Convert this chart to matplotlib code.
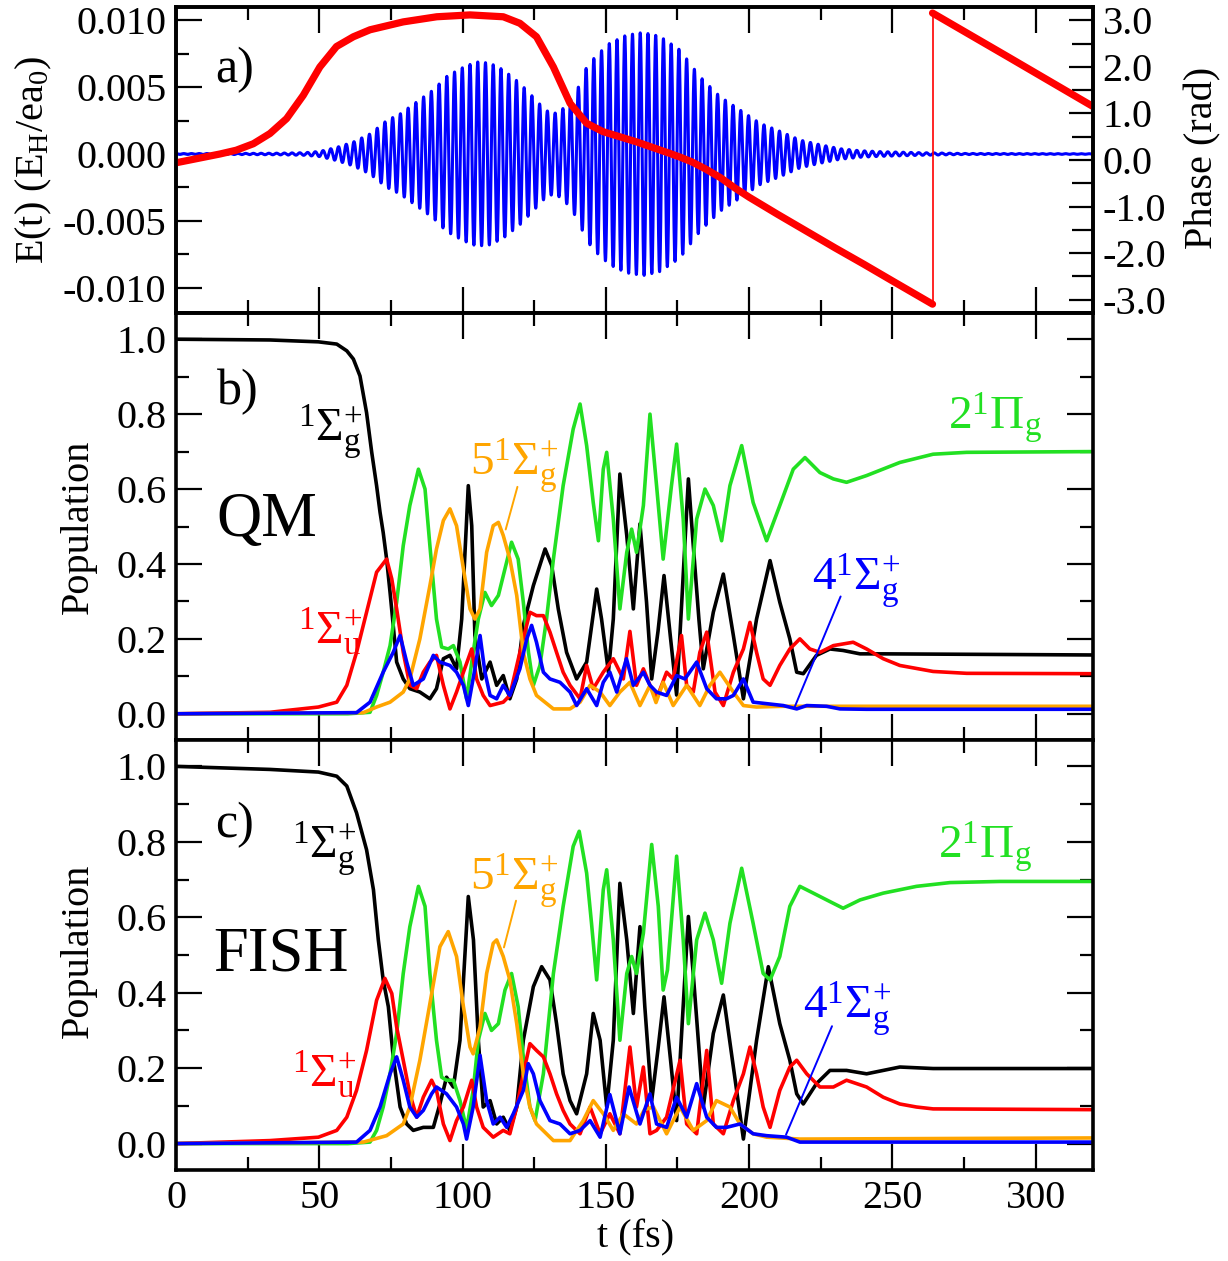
import numpy as np
import matplotlib
matplotlib.use('Agg')
import matplotlib.pyplot as plt
from matplotlib.ticker import MultipleLocator, FixedLocator, FormatStrFormatter

plt.rcParams['font.family'] = ['Liberation Serif', 'DejaVu Serif']
plt.rcParams['mathtext.fontset'] = 'custom'
plt.rcParams['mathtext.rm'] = 'Liberation Serif'
plt.rcParams['mathtext.it'] = 'Liberation Serif:italic'
plt.rcParams['mathtext.bf'] = 'Liberation Serif:bold'
plt.rcParams['axes.unicode_minus'] = False

# ---------------- panel a: field envelope ----------------
carrier_period_fs = 2.7
env_t = [0, 20, 35, 45, 50.2, 56.1, 61.9, 67.7, 73.5, 78.2, 84.0, 89.8, 94.4, 100.3, 104.9,
         109.6, 114.2, 120.0, 125.8, 128.8, 131.7, 134.6, 137.5, 140.4, 143.3, 146.8, 151.4,
         157.2, 163.1, 168.9, 175.8, 182.8, 189.8, 196.8, 203.8, 210.8, 217.7, 224.7, 231.7,
         238.7, 245.7, 259.6, 275, 320]
env_a = [0.00003, 0.00004, 0.00006, 0.0001, 0.0002, 0.0005, 0.0009, 0.0015, 0.0025, 0.0030,
         0.0039, 0.0048, 0.0058, 0.0065, 0.0069, 0.0068, 0.0063, 0.0053, 0.0040, 0.0033,
         0.0030, 0.0033, 0.0040, 0.0050, 0.0065, 0.0074, 0.0083, 0.0089, 0.0091, 0.0088,
         0.0078, 0.0058, 0.0043, 0.0033, 0.0023, 0.0017, 0.00105, 0.0007, 0.0004, 0.00025,
         0.00018, 0.0001, 0.00004, 0.00002]

# phase (rad), two branches around the 2*pi wrap
phase_t1 = [0, 15.4, 21.0, 27.0, 32.8, 38.6, 44.4, 50.2, 56.0, 61.9, 67.7, 79.3, 91.0, 102.6,
            114.2, 120.0, 125.8, 131.7, 137.5, 143.3, 149.0, 160.7, 172.4, 176.0, 180.0,
            185.0, 190.0, 195.0, 200.0, 210.0, 220.0, 230.0, 240.0, 250.0, 264.0]
phase_v1 = [-0.06, 0.13, 0.21, 0.35, 0.57, 0.89, 1.39, 2.00, 2.44, 2.65, 2.80, 2.97, 3.08,
            3.12, 3.08, 2.94, 2.65, 2.00, 1.22, 0.79, 0.61, 0.39, 0.14, 0.06, -0.04,
            -0.20, -0.38, -0.60, -0.80, -1.17, -1.53, -1.89, -2.24, -2.60, -3.10]
phase_t2 = [264.0, 290.0, 320.0]
phase_v2 = [3.16, 2.23, 1.15]

# ---------------- panel b: QM populations (t [fs], population) ----------------
qm_g1 = [(0, 1.0), (32.8, 0.998), (49.7, 0.993), (56.1, 0.987), (59.6, 0.969), (61.9, 0.947),
         (64.2, 0.902), (66.5, 0.804), (68.3, 0.698), (70.0, 0.609), (71.2, 0.538), (72.3, 0.484),
         (73.5, 0.413), (74.7, 0.324), (75.8, 0.236), (77.0, 0.138), (79.3, 0.093), (81.6, 0.067),
         (85.1, 0.058), (88.6, 0.04), (90.9, 0.067), (93.3, 0.147), (95.6, 0.156), (97.9, 0.12),
         (99.7, 0.253), (102.0, 0.609), (103.2, 0.502), (104.3, 0.209), (106.7, 0.093),
         (109.6, 0.138), (111.9, 0.076), (114.2, 0.102), (116.5, 0.04), (118.9, 0.093),
         (121.2, 0.236), (124.7, 0.342), (128.8, 0.44), (131.1, 0.396), (133.4, 0.28),
         (136.3, 0.164), (139.8, 0.093), (143.3, 0.138), (146.8, 0.333), (148.5, 0.253),
         (150.9, 0.111), (152.6, 0.253), (154.9, 0.64), (157.3, 0.476), (159.6, 0.28),
         (161.9, 0.507), (164.2, 0.298), (166.0, 0.093), (168.2, 0.22), (170.3, 0.369),
         (172.6, 0.2), (174.7, 0.05), (176.5, 0.3), (178.8, 0.627), (180.5, 0.45), (182.5, 0.25),
         (184.0, 0.12), (187.5, 0.271), (191.0, 0.373), (194.5, 0.209), (198.0, 0.04),
         (202.6, 0.253), (207.3, 0.409), (210.7, 0.298), (214.2, 0.2), (216.6, 0.111),
         (218.9, 0.107), (223.5, 0.156), (228.2, 0.173), (232.8, 0.169), (238.7, 0.16),
         (246.8, 0.16), (320, 0.157)]
qm_pi = [(0, 0.0), (60, 0.0), (67.7, 0.004), (70.0, 0.049), (72.3, 0.111), (74.7, 0.182),
         (77.0, 0.298), (79.3, 0.449), (81.6, 0.556), (84.6, 0.653), (86.9, 0.6), (88.6, 0.449),
         (90.9, 0.253), (92.7, 0.178), (95.0, 0.173), (96.8, 0.182), (99.1, 0.138), (101.4, 0.04),
         (103.7, 0.164), (105.5, 0.253), (107.8, 0.324), (110.1, 0.289), (112.5, 0.316),
         (114.8, 0.387), (117.1, 0.458), (119.4, 0.413), (121.2, 0.298), (123.0, 0.164),
         (124.7, 0.076), (127.0, 0.129), (129.3, 0.253), (131.7, 0.413), (135.1, 0.609),
         (138.6, 0.76), (141.0, 0.827), (143.3, 0.716), (145.6, 0.564), (147.4, 0.462),
         (149.1, 0.653), (150.3, 0.698), (152.6, 0.52), (154.9, 0.28), (157.3, 0.431),
         (159.0, 0.493), (160.7, 0.431), (163.1, 0.556), (165.4, 0.8), (167.7, 0.609),
         (170.0, 0.413), (172.9, 0.609), (174.7, 0.72), (177.0, 0.52), (178.8, 0.253),
         (181.7, 0.52), (184.6, 0.6), (187.5, 0.556), (190.4, 0.462), (193.3, 0.609),
         (197.4, 0.716), (201.4, 0.564), (206.1, 0.462), (210.7, 0.556), (215.4, 0.653),
         (219.5, 0.684), (224.7, 0.644), (229.4, 0.627), (234.0, 0.618), (241.0, 0.636),
         (252.6, 0.671), (264.2, 0.693), (275.9, 0.698), (320, 0.7)]
qm_u1 = [(0, 0.0), (32.8, 0.004), (49.7, 0.018), (56.1, 0.031), (59.6, 0.076), (63.0, 0.164),
         (66.5, 0.271), (70.0, 0.378), (73.5, 0.413), (75.3, 0.36), (77.0, 0.28), (79.3, 0.164),
         (81.6, 0.076), (84.0, 0.067), (86.3, 0.111), (88.6, 0.138), (90.9, 0.156), (93.3, 0.076),
         (95.6, 0.013), (97.9, 0.058), (100.3, 0.111), (103.2, 0.173), (104.9, 0.093),
         (107.2, 0.049), (109.6, 0.022), (114.2, 0.031), (116.5, 0.049), (120.0, 0.164),
         (123.5, 0.271), (125.8, 0.262), (128.2, 0.262), (130.5, 0.218), (132.8, 0.164),
         (135.1, 0.111), (137.5, 0.076), (141.0, 0.04), (143.3, 0.129), (145.6, 0.067),
         (149.1, 0.111), (152.6, 0.147), (156.1, 0.093), (158.4, 0.22), (160.7, 0.076),
         (163.1, 0.12), (165.4, 0.076), (167.7, 0.04), (171.2, 0.111), (173.5, 0.093),
         (176.4, 0.209), (178.2, 0.076), (180.5, 0.058), (182.8, 0.164), (185.2, 0.218),
         (188.1, 0.058), (191.0, 0.022), (194.5, 0.111), (198.0, 0.173), (200.3, 0.244),
         (202.6, 0.164), (204.9, 0.093), (207.3, 0.076), (210.7, 0.129), (214.2, 0.173),
         (217.7, 0.2), (221.2, 0.173), (224.7, 0.164), (229.4, 0.182), (236.3, 0.191),
         (241.0, 0.173), (246.8, 0.147), (252.6, 0.129), (264.2, 0.113), (275.9, 0.108),
         (320, 0.107)]
qm_g5 = [(0, 0.0), (65.4, 0.003), (70.0, 0.018), (74.7, 0.031), (79.3, 0.058), (81.6, 0.093),
         (85.1, 0.2), (88.6, 0.342), (90.9, 0.44), (93.3, 0.516), (95.6, 0.547), (97.9, 0.502),
         (100.3, 0.387), (102.6, 0.28), (104.3, 0.253), (106.1, 0.28), (108.4, 0.431),
         (110.7, 0.502), (112.5, 0.511), (114.2, 0.476), (116.5, 0.413), (118.9, 0.316),
         (121.2, 0.164), (123.5, 0.093), (125.8, 0.049), (131.7, 0.013), (137.5, 0.013),
         (141.0, 0.031), (144.5, 0.076), (148.0, 0.058), (151.4, 0.022), (154.9, 0.058),
         (158.4, 0.084), (161.9, 0.022), (165.4, 0.076), (167.5, 0.03), (170.0, 0.084),
         (173.5, 0.022), (178.2, 0.076), (182.8, 0.022), (186.3, 0.076), (189.8, 0.111),
         (194.5, 0.058), (198.0, 0.022), (202.6, 0.018), (211.9, 0.02), (320, 0.02)]
qm_g4 = [(0, 0.0), (63.0, 0.003), (67.7, 0.031), (72.3, 0.111), (75.8, 0.164), (78.2, 0.209),
         (80.5, 0.138), (82.8, 0.076), (86.3, 0.093), (89.8, 0.156), (92.1, 0.138), (95.6, 0.129),
         (97.9, 0.111), (100.3, 0.076), (102.0, 0.022), (104.3, 0.12), (106.1, 0.209),
         (107.8, 0.111), (109.6, 0.049), (111.9, 0.04), (114.2, 0.076), (116.5, 0.049),
         (120.0, 0.12), (122.4, 0.2), (124.1, 0.236), (125.8, 0.191), (128.2, 0.111),
         (130.5, 0.093), (134.0, 0.084), (137.5, 0.058), (139.8, 0.022), (143.3, 0.067),
         (146.8, 0.022), (149.1, 0.084), (151.4, 0.111), (153.8, 0.058), (157.2, 0.147),
         (159.6, 0.076), (163.1, 0.111), (165.4, 0.076), (167.7, 0.058), (171.2, 0.049),
         (174.7, 0.102), (177.6, 0.093), (181.7, 0.138), (185.2, 0.067), (188.6, 0.04),
         (192.1, 0.04), (194.5, 0.049), (198.0, 0.093), (201.4, 0.031), (206.1, 0.027),
         (211.9, 0.022), (216.6, 0.013), (220.1, 0.022), (227.0, 0.02), (231.7, 0.013),
         (241.0, 0.012), (320, 0.012)]

# ---------------- panel c: FISH populations ----------------
fish_g1 = [(0, 1.0), (32.8, 0.992), (49.7, 0.985), (56.1, 0.974), (59.6, 0.948), (63.0, 0.877),
           (66.5, 0.779), (68.9, 0.673), (70.6, 0.54), (72.3, 0.434), (74.1, 0.363), (75.8, 0.23),
           (78.2, 0.097), (80.5, 0.052), (82.8, 0.035), (86.3, 0.043), (89.8, 0.043),
           (92.1, 0.105), (94.4, 0.176), (96.8, 0.15), (99.1, 0.274), (102.0, 0.655),
           (103.8, 0.54), (105.5, 0.274), (107.2, 0.097), (109.6, 0.114), (111.9, 0.052),
           (114.2, 0.07), (116.5, 0.035), (118.9, 0.097), (121.2, 0.274), (124.7, 0.416),
           (127.6, 0.469), (130.5, 0.434), (132.8, 0.318), (135.1, 0.185), (137.5, 0.114),
           (139.8, 0.079), (143.3, 0.185), (145.6, 0.345), (148.0, 0.274), (150.3, 0.097),
           (152.6, 0.274), (154.9, 0.69), (157.3, 0.54), (159.6, 0.345), (161.9, 0.575),
           (163.6, 0.363), (166.0, 0.114), (168.2, 0.25), (170.3, 0.389), (172.6, 0.22),
           (174.7, 0.061), (176.5, 0.3), (178.8, 0.602), (180.5, 0.45), (182.5, 0.25),
           (184.0, 0.097), (187.5, 0.292), (191.0, 0.394), (194.5, 0.203), (198.0, 0.012),
           (202.6, 0.274), (206.7, 0.469), (210.7, 0.318), (214.2, 0.221), (216.6, 0.132),
           (218.9, 0.105), (223.5, 0.159), (228.2, 0.194), (234.0, 0.194), (241.0, 0.185),
           (252.6, 0.203), (264.2, 0.199), (320, 0.199)]
fish_pi = [(0, 0.0), (60, 0.0), (67.7, 0.004), (70.0, 0.035), (72.3, 0.097), (74.7, 0.185),
           (77.0, 0.292), (79.3, 0.451), (81.6, 0.575), (84.6, 0.682), (86.9, 0.629),
           (88.6, 0.451), (90.9, 0.274), (92.7, 0.176), (94.4, 0.168), (96.8, 0.168),
           (99.1, 0.114), (101.4, 0.039), (103.7, 0.141), (105.5, 0.274), (107.8, 0.345),
           (110.1, 0.3), (112.5, 0.318), (114.8, 0.407), (117.1, 0.451), (119.4, 0.363),
           (121.2, 0.23), (123.5, 0.097), (125.3, 0.061), (128.2, 0.185), (131.7, 0.451),
           (135.1, 0.629), (138.6, 0.788), (140.7, 0.828), (143.3, 0.717), (145.0, 0.584),
           (146.8, 0.434), (149.1, 0.673), (150.3, 0.726), (152.6, 0.54), (154.9, 0.274),
           (157.3, 0.451), (159.0, 0.496), (160.7, 0.451), (163.1, 0.558), (166.0, 0.793),
           (168.3, 0.629), (170.0, 0.407), (171.5, 0.46), (174.7, 0.762), (177.0, 0.54),
           (178.8, 0.318), (181.7, 0.54), (184.6, 0.611), (187.5, 0.54), (190.4, 0.425),
           (193.3, 0.584), (197.4, 0.73), (201.4, 0.584), (204.9, 0.451), (207.3, 0.434),
           (210.7, 0.496), (214.2, 0.629), (217.7, 0.682), (222.4, 0.664), (229.4, 0.637),
           (232.8, 0.624), (238.7, 0.646), (246.8, 0.664), (258.4, 0.682), (270.1, 0.692),
           (287.5, 0.695), (320, 0.695)]
fish_u1 = [(0, 0.0), (32.8, 0.008), (49.7, 0.017), (56.1, 0.035), (59.6, 0.07), (63.0, 0.141),
           (66.5, 0.247), (70.0, 0.38), (72.9, 0.438), (75.3, 0.398), (77.0, 0.309),
           (79.3, 0.221), (81.6, 0.132), (84.0, 0.07), (86.3, 0.123), (89.2, 0.168),
           (90.9, 0.141), (93.3, 0.052), (95.6, 0.008), (97.9, 0.061), (100.3, 0.097),
           (103.2, 0.168), (104.9, 0.097), (107.2, 0.043), (110.7, 0.017), (114.2, 0.035),
           (116.5, 0.026), (118.9, 0.097), (121.2, 0.185), (123.5, 0.265), (125.8, 0.247),
           (128.2, 0.23), (130.5, 0.185), (132.8, 0.132), (135.1, 0.088), (137.5, 0.052),
           (141.0, 0.026), (144.5, 0.097), (148.0, 0.026), (151.4, 0.079), (154.9, 0.026),
           (158.4, 0.256), (160.7, 0.097), (163.1, 0.203), (165.4, 0.026), (167.7, 0.035),
           (171.2, 0.07), (175.9, 0.221), (178.2, 0.052), (181.7, 0.026), (185.2, 0.247),
           (187.5, 0.052), (191.0, 0.026), (194.5, 0.114), (198.0, 0.185), (200.3, 0.256),
           (202.6, 0.185), (204.9, 0.097), (207.3, 0.043), (210.7, 0.141), (214.2, 0.203),
           (216.6, 0.221), (220.1, 0.185), (224.7, 0.15), (229.4, 0.15), (234.0, 0.168),
           (241.0, 0.15), (246.8, 0.123), (252.6, 0.105), (258.4, 0.097), (264.2, 0.092),
           (320, 0.09)]
fish_g5 = [(0, 0.0), (65.4, 0.004), (73.5, 0.021), (79.3, 0.052), (81.6, 0.097), (85.1, 0.221),
           (88.6, 0.371), (92.1, 0.522), (95.0, 0.562), (97.9, 0.496), (100.3, 0.363),
           (102.6, 0.256), (103.7, 0.238), (106.1, 0.309), (108.4, 0.451), (110.7, 0.531),
           (111.9, 0.54), (114.2, 0.496), (116.5, 0.434), (118.9, 0.318), (121.2, 0.185),
           (123.5, 0.097), (125.8, 0.052), (131.7, 0.008), (137.5, 0.008), (142.1, 0.061),
           (145.6, 0.114), (149.1, 0.079), (152.6, 0.035), (156.1, 0.079), (160.7, 0.052),
           (163.5, 0.09), (166.6, 0.097), (171.2, 0.026), (175.9, 0.097), (180.5, 0.035),
           (185.2, 0.061), (188.6, 0.114), (193.3, 0.097), (196.8, 0.052), (201.4, 0.026),
           (206.1, 0.017), (217.7, 0.012), (320, 0.015)]
fish_g4 = [(0, 0.0), (63.0, 0.004), (67.7, 0.035), (71.2, 0.097), (74.7, 0.185), (77.0, 0.23),
           (79.3, 0.168), (81.6, 0.097), (84.0, 0.07), (86.3, 0.088), (89.2, 0.132),
           (90.9, 0.15), (94.4, 0.132), (97.9, 0.097), (100.3, 0.052), (101.4, 0.012),
           (103.7, 0.097), (106.1, 0.234), (108.4, 0.114), (110.7, 0.052), (113.1, 0.07),
           (115.4, 0.043), (117.7, 0.079), (121.2, 0.141), (122.9, 0.212), (124.7, 0.185),
           (127.0, 0.114), (130.5, 0.061), (134.0, 0.052), (137.5, 0.026), (141.0, 0.035),
           (144.5, 0.061), (148.0, 0.017), (151.4, 0.13), (154.9, 0.026), (158.1, 0.15),
           (161.9, 0.052), (165.4, 0.132), (167.7, 0.052), (171.2, 0.043), (174.7, 0.123),
           (178.2, 0.07), (181.7, 0.159), (185.2, 0.07), (188.6, 0.043), (192.1, 0.043),
           (196.8, 0.052), (201.4, 0.026), (206.1, 0.021), (213.1, 0.017), (217.7, 0.004),
           (320, 0.004)]

x_ticks = [0, 50, 100, 150, 200, 250, 300]
e_ticks = [-0.010, -0.005, 0.0, 0.005, 0.010]
phase_ticks = [-3.0, -2.0, -1.0, 0.0, 1.0, 2.0, 3.0]
pop_ticks = [0.0, 0.2, 0.4, 0.6, 0.8, 1.0]

C_BLACK, C_RED, C_GREEN, C_ORANGE, C_BLUE = 'black', '#ff0000', '#22e022', '#ffa500', '#0000ff'

# ---------------- figure ----------------
W_PX, H_PX = 1228, 1261
fig = plt.figure(figsize=(W_PX / 100, H_PX / 100), dpi=100)
LEFT, RIGHT = 176, 1093


def rect(top, bot):
    return [LEFT / W_PX, 1 - bot / H_PX, (RIGHT - LEFT) / W_PX, (bot - top) / H_PX]


axa = fig.add_axes(rect(7, 313))
axb = fig.add_axes(rect(313, 740))
axc = fig.add_axes(rect(740, 1170))

TFS = 29


def style(ax, right=True, labelbottom=False):
    for s in ax.spines.values():
        s.set_linewidth(2.6)
    ax.set_xlim(0, 320)
    ax.xaxis.set_major_locator(FixedLocator(x_ticks))
    ax.xaxis.set_minor_locator(MultipleLocator(25))
    ax.tick_params(which='both', direction='in', top=True, right=right, width=1.6,
                   labelsize=TFS, labelbottom=labelbottom)
    ax.tick_params(which='major', length=19)
    ax.tick_params(which='minor', length=9.5)
    ax.tick_params(axis='y', pad=7)
    ax.tick_params(axis='x', pad=7)


# panel a
style(axa, right=False)
tt = np.arange(0, 320.0001, 0.04)
field = np.interp(tt, env_t, env_a) * np.cos(2 * np.pi * tt / carrier_period_fs)
axa.plot(tt, field, color=C_BLUE, lw=2.2)
axa.set_ylim(-0.0119, 0.0110)
axa.yaxis.set_major_locator(FixedLocator(e_ticks))
axa.yaxis.set_minor_locator(FixedLocator([-0.0075, -0.0025, 0.0025, 0.0075]))
axa.yaxis.set_major_formatter(FormatStrFormatter('%.3f'))

axp = axa.twinx()
axp.plot(phase_t1, phase_v1, color=C_RED, lw=5.2, solid_capstyle='round')
axp.plot(phase_t2, phase_v2, color=C_RED, lw=5.2, solid_capstyle='round')
axp.plot([phase_t1[-1], phase_t2[0]], [phase_v1[-1], phase_v2[0]], color=C_RED, lw=1.2)
axp.set_xlim(0, 320)
axp.set_ylim(-3.29, 3.29)
axp.yaxis.set_major_locator(FixedLocator(phase_ticks))
axp.yaxis.set_minor_locator(MultipleLocator(0.5))
axp.yaxis.set_major_formatter(FormatStrFormatter('%.1f'))
axp.tick_params(which='both', direction='in', right=True, width=1.6, labelsize=TFS, pad=7)
axp.tick_params(which='major', length=17)
axp.tick_params(which='minor', length=15)
for s in axp.spines.values():
    s.set_linewidth(2.6)
axa.text(13.6, 0.0063, 'a)', fontsize=36, va='center', ha='left')

LBL_G1 = r'$\mathrm{^{1}Σ_{g}^{+}}$'
LBL_U1 = r'$\mathrm{^{1}Σ_{u}^{+}}$'
LBL_G5 = r'$\mathrm{5^{1}Σ_{g}^{+}}$'
LBL_PI = r'$\mathrm{2^{1}Π_{g}}$'
LBL_G4 = r'$\mathrm{4^{1}Σ_{g}^{+}}$'


def pop_panel(ax, g1, pi, u1, g5, g4, tag, name, lab_pos):
    style(ax, right=True, labelbottom=(ax is axc))
    for data, col in [(g1, C_BLACK), (pi, C_GREEN), (u1, C_RED), (g5, C_ORANGE), (g4, C_BLUE)]:
        a = np.array(data)
        ax.plot(a[:, 0], a[:, 1], color=col, lw=2.6)
    ax.set_ylim(-0.07, 1.07)
    ax.yaxis.set_major_locator(FixedLocator(pop_ticks))
    ax.yaxis.set_minor_locator(MultipleLocator(0.1))
    ax.yaxis.set_major_formatter(FormatStrFormatter('%.1f'))
    p = lab_pos
    ax.text(p['tag'][0], p['tag'][1], tag, fontsize=36, va='center', ha='left')
    ax.text(p['name'][0], p['name'][1], name, fontsize=45, va='baseline', ha='left')
    SFS = 34
    ax.text(p['g1'][0], p['g1'][1], LBL_G1, fontsize=SFS, color=C_BLACK,
            va='baseline', ha='left')
    ax.text(p['u1'][0], p['u1'][1], LBL_U1, fontsize=SFS, color=C_RED,
            va='baseline', ha='left')
    ax.text(p['g5'][0], p['g5'][1], LBL_G5, fontsize=SFS, color=C_ORANGE,
            va='baseline', ha='left')
    ax.text(p['pi'][0], p['pi'][1], LBL_PI, fontsize=SFS, color=C_GREEN,
            va='baseline', ha='left')
    ax.text(p['g4'][0], p['g4'][1], LBL_G4, fontsize=SFS, color=C_BLUE,
            va='baseline', ha='left')
    ax.annotate('', xy=p['l5'][1], xytext=p['l5'][0],
                arrowprops=dict(arrowstyle='-', color=C_ORANGE, lw=1.4))
    ax.annotate('', xy=p['l4'][1], xytext=p['l4'][0],
                arrowprops=dict(arrowstyle='-', color=C_BLUE, lw=1.4))


pop_panel(axb, qm_g1, qm_pi, qm_u1, qm_g5, qm_g4, 'b)', 'QM',
          dict(tag=(14.2, 0.859), name=(14.2, 0.475), g1=(42.7, 0.729), u1=(42.7, 0.187),
               g5=(102.6, 0.636), pi=(269.5, 0.76), g4=(221.8, 0.329),
               l5=((119.4, 0.613), (114.8, 0.485)), l4=((232.3, 0.32), (215.4, 0.009))))
pop_panel(axc, fish_g1, fish_pi, fish_u1, fish_g5, fish_g4, 'c)', 'FISH',
          dict(tag=(13.5, 0.846), name=(13.0, 0.46), g1=(40.4, 0.757), u1=(40.4, 0.15),
               g5=(102.6, 0.673), pi=(266.0, 0.757), g4=(218.9, 0.332),
               l5=((118.9, 0.651), (114.2, 0.513)), l4=((229.3, 0.318), (212.5, 0.017))))

# axis labels
fig.text(34 / W_PX, 1 - 160 / H_PX, r'E(t) (E$_\mathrm{H}$/ea$_\mathrm{0}$)', rotation=90,
         ha='center', va='center', fontsize=TFS)
fig.text(1203 / W_PX, 1 - 158 / H_PX, 'Phase (rad)', rotation=90, ha='center', va='center',
         fontsize=TFS)
fig.text(78 / W_PX, 1 - 527 / H_PX, 'Population', rotation=90, ha='center', va='center',
         fontsize=TFS)
fig.text(78 / W_PX, 1 - 951 / H_PX, 'Population', rotation=90, ha='center', va='center',
         fontsize=TFS)
fig.text(636 / W_PX, 1 - 1238 / H_PX, 't (fs)', ha='center', va='center', fontsize=TFS)

fig.savefig('out.png', dpi=100, facecolor='white')
